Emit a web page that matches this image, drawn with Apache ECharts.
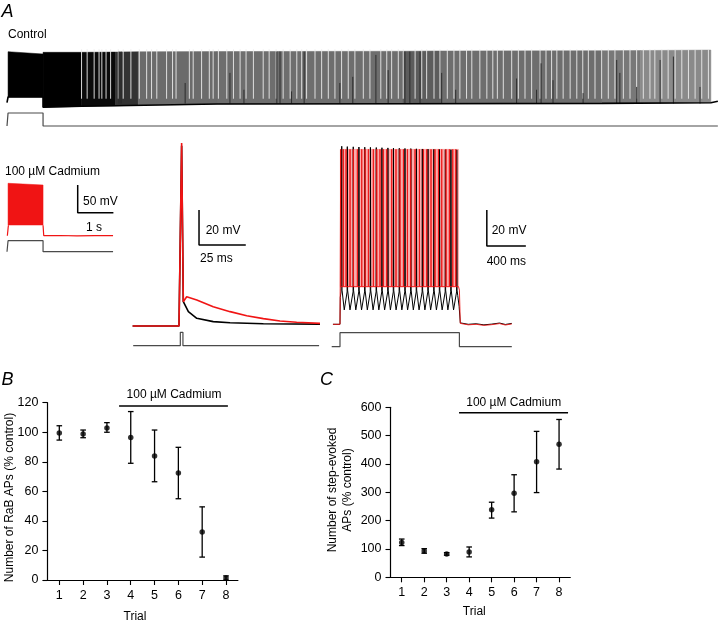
<!DOCTYPE html>
<html><head><meta charset="utf-8">
<script src="https://cdn.jsdelivr.net/npm/echarts@6/dist/echarts.min.js"></script>
<style>html,body{margin:0;padding:0;background:#fff}#c{width:720px;height:624px}</style>
</head><body><div id="c"></div>
<script>
// ================= DATA =================
// ---- Panel A, control RaB trace (time in s, membrane potential in mV) ----
const controlStimTime  = [0, 0.03, 0.03, 1.03, 1.03, 20.31];
const controlStimLevel = [0, 0, 1, 1, 0, 0];
// envelope of the dense firing, per segment
const controlEnvStart = [0.03, 1.03, 2.13, 3.10, 3.75, 6.0, 11.3, 12.4, 17.0, 18.1];
const controlEnvEnd   = [1.03, 2.13, 3.10, 3.75, 6.0, 11.3, 12.4, 17.0, 18.1, 20.11];
const controlEnvTop0  = [27.7, 26.6, 26.6, 27.0, 27.5, 28.0, 28.5, 29.0, 29.5, 29.8];
const controlEnvTop1  = [23.6, 26.6, 27.0, 27.5, 28.0, 28.5, 29.0, 29.5, 29.8, 30.7];
const controlEnvBot0  = [-52.9, -71.3, -69.5, -68.4, -67.5, -65.4, -65.0, -64.8, -64.2, -64.0];
const controlEnvBot1  = [-52.9, -69.5, -68.4, -67.5, -65.4, -65.0, -64.8, -64.2, -64.0, -63.1];
const controlDensity  = [1.0, 1.0, 0.96, 0.80, 0.58, 0.57, 0.64, 0.57, 0.53, 0.46];
// lower edge (troughs) of the control trace
const controlBaseTime = [0, 0.03, 0.03, 1.03, 1.03, 2.13, 3.1, 6.0, 11.3, 17.0, 20.11, 20.14, 20.31];
const controlBaseV    = [-63, -63, -52.9, -52.9, -71.3, -69.5, -68.4, -65.4, -65.0, -64.2, -63.1, -60.5, -60.5];
// longer inter-spike intervals (visible gaps), s
const controlGapTimes = [2.13, 2.29, 2.49, 2.63, 2.71, 2.83, 2.96, 3.18, 3.32, 3.54, 3.78, 3.99, 4.13, 4.28,
  4.56, 4.73, 4.83, 5.21, 5.32, 5.56, 5.78, 5.89, 6.04, 6.28, 6.47, 6.66, 6.83, 7.04, 7.32, 7.49, 7.69, 7.89,
  8.09, 8.28, 8.42, 8.56, 8.80, 8.99, 9.18, 9.37, 9.56, 9.75, 9.94, 10.18, 10.37, 10.68, 10.85, 10.99, 11.18,
  11.32, 11.66, 11.85, 11.99, 12.20, 12.37, 12.58, 12.77, 12.94, 13.13, 13.28, 13.51, 13.71, 13.88, 14.01,
  14.18, 14.42, 14.61, 14.80, 14.99, 15.23, 15.40, 15.56, 15.71, 15.89, 16.09, 16.28, 16.45, 16.61, 16.80,
  16.99, 17.18, 17.37, 17.61, 17.80, 17.99, 18.18, 18.37, 18.51, 18.71, 18.89, 19.09, 19.28, 19.47, 19.66,
  19.85, 20.04];
// individually visible spikes: time (s) and peak (mV)
const controlSpikeTimes = [3.20, 3.26, 5.09, 6.37, 6.77, 7.71, 7.80, 8.13, 8.49, 9.51, 9.88, 10.54, 10.89, 11.37,
  11.51, 11.80, 12.42, 12.82, 14.56, 15.13, 15.26, 15.60, 16.46, 17.42, 17.51, 17.99, 18.66, 19.04, 19.80];
const controlSpikePeaks = [28, 28, -28, -10, -40, 28, 28, -43, 28, -28, -17, 22, -5, 28,
  28, 28, -10, -40, -20, -40, 7, -23, -46, 13, -10, -35, 13, 19, -35];

// ---- Panel A, 100 uM cadmium inset (s, mV) ----
const insetStimTime  = [0, 0.03, 0.03, 1.03, 1.03, 3.03];
const insetStimLevel = [0, 0, 1, 1, 0, 0];
const insetBandStart = [0.03], insetBandEnd = [1.03];
const insetBandTop0 = [34.6], insetBandTop1 = [31.5], insetBandBot0 = [-40.7], insetBandBot1 = [-40.7];
const insetPreTime  = [0.01, 0.03, 0.04];
const insetPreV     = [-60, -60, -41];
const insetPostTime = [1.03, 1.05, 1.5, 2.0, 2.5, 3.03];
const insetPostV    = [-41, -60, -59.6, -60.2, -59.8, -60];

// ---- Panel A, single rebound AP (ms, mV) ----
const apRedTime   = [0.5, 25.3, 26.7, 27.6, 29.4, 34.8, 43.6, 52.6, 61.5, 70.4, 79.3, 88.2, 100.7];
const apRedV      = [-60, -60, 44.6, -46.1, -43.3, -45.1, -49.0, -51.8, -54.1, -55.8, -57.1, -57.9, -58.5];
const apBlackTime = [0.5, 25.3, 26.7, 27.6, 28.1, 30.3, 34.8, 43.6, 52.6, 70.4, 100.7];
const apBlackV    = [-60, -60, 43, -46.1, -46.5, -51.8, -55.6, -57.5, -58.1, -58.7, -58.9];
const apStimTime  = [0.8, 26.0, 26.0, 27.4, 27.4, 100.2];
const apStimLevel = [0, 0, 1, 1, 0, 0];

// ---- Panel A, step-evoked firing (ms, mV) ----
const stepStimTime  = [0, 85, 85, 1309, 1309, 1846];
const stepStimLevel = [0, 0, 1, 1, 0, 0];
const stepBlackSpikes = [103, 160, 221, 279, 339, 397, 457, 515, 576, 633, 693, 751, 811, 868, 929, 987, 1047, 1105, 1165, 1222, 1282];
const stepBlackPeaks  = [38.9, 38.7, 38.6, 38.5, 38.4, 38.3, 38.2, 38.1, 38.0, 37.9, 37.8, 37.7, 37.6, 37.5, 37.4, 37.3, 37.2, 37.1, 37.0, 37.0, 36.9];
const stepBlackTrough = -52;
const stepRedSpikes = [92, 119, 147, 188, 222, 263, 308, 342, 376, 427, 462, 495, 529, 564, 615, 659, 700, 735,
  776, 810, 854, 899, 940, 974, 1018, 1059, 1094, 1128, 1172, 1206, 1241, 1272];
const stepRedPeak = 37.2, stepRedPlateau = -39.1;
const stepPostTime = [1330, 1400, 1480, 1560, 1640, 1720, 1780, 1846];
const stepPostV    = [-59.6, -60.3, -60.0, -60.6, -60.2, -59.6, -60.4, -59.8];

// ---- Panel B: RaB APs (% control) ----
const trials = ['1', '2', '3', '4', '5', '6', '7', '8'];
const bMean  = [99.5, 98.8, 102.8, 96.5, 84, 72.5, 32.5, 1.4];
const bUpper = [104.4, 101.5, 106.5, 114, 101.5, 89.8, 49.5, 2.8];
const bLower = [94.7, 96.3, 100, 79, 66.5, 55, 15.5, 0];
// ---- Panel C: step-evoked APs (% control) ----
const cMean  = [123, 93, 82, 89, 238, 297, 408, 470];
const cUpper = [135, 101, 87, 107, 265, 362, 515, 557];
const cLower = [112, 85, 78, 72, 209, 231, 299, 382];
const bTicks = [0, 20, 40, 60, 80, 100, 120];
const cTicks = [0, 100, 200, 300, 400, 500, 600];

// ================= BUILD =================
const FONT = '"Liberation Sans", Arial, Helvetica, sans-serif';
const RED = '#f01414';
const zip = (a, b) => a.map((v, i) => [v, b[i]]);

function bandRows(s, e, t0, t1, b0, b1, d) { return s.map((v, i) => [v, e[i], t0[i], t1[i], b0[i], b1[i], d ? d[i] : 1]); }
function bandSeries(x, y, rows, colorFn) {
  return { type: 'custom', xAxisIndex: x, yAxisIndex: y, data: rows, encode: { x: 0, y: 2 }, silent: true,
    renderItem: (p, api) => {
      const pts = [api.coord([api.value(0), api.value(2)]), api.coord([api.value(1), api.value(3)]),
                   api.coord([api.value(1), api.value(5)]), api.coord([api.value(0), api.value(4)])];
      const c = colorFn(api.value(6));
      return { type: 'polygon', shape: { points: pts }, style: { fill: c, stroke: c, lineWidth: 0.5 } };
    } };
}
function vlineSeries(x, y, rows, color, width) {
  return { type: 'custom', xAxisIndex: x, yAxisIndex: y, data: rows, encode: { x: 0, y: 1 }, silent: true,
    renderItem: (p, api) => {
      const a = api.coord([api.value(0), api.value(1)]), b = api.coord([api.value(0), api.value(2)]);
      return { type: 'line', shape: { x1: a[0], y1: a[1], x2: b[0], y2: b[1] }, style: { stroke: color, lineWidth: width } };
    } };
}
function lineSeries(x, y, data, color, width) {
  return { type: 'line', xAxisIndex: x, yAxisIndex: y, data, showSymbol: false, symbol: 'none', clip: false,
    lineStyle: { color, width }, silent: true, animation: false };
}
const grayOf = d => { const g = Math.round(255 * (1 - d)); return `rgb(${g},${g},${g})`; };

// step-evoked black trace from read spike times
const stepBlack = [[13, -60], [85, -60], [88, -45], [96, -42]];
stepBlackSpikes.forEach((ts, i) => {
  stepBlack.push([ts - 1, -42], [ts, stepBlackPeaks[i]], [ts + 3, -41]);
  const nx = stepBlackSpikes[i + 1];
  if (nx) stepBlack.push([ts + (nx - ts) * 0.45, stepBlackTrough], [nx - 2, -42]);
});
stepBlack.push([1292, -44], [1306, -50], [1318, -59.2]);
stepPostTime.forEach((t, i) => stepBlack.push([t, stepPostV[i] + 0.3]));
const stepRed = [[13, -60], [85, -60], [87, -40]];
stepRedSpikes.forEach(ts => stepRed.push([ts - 1, stepRedPlateau], [ts, stepRedPeak], [ts + 1.5, stepRedPlateau]));
stepRed.push([1300, stepRedPlateau], [1309, -41], [1318, -59.5]);
stepPostTime.forEach((t, i) => stepRed.push([t, stepPostV[i]]));

const gapRows = controlGapTimes.map(t => [t, 32, -56]);
const spikeRows = controlSpikeTimes.map((t, i) => [t, -64.5, controlSpikePeaks[i]]);

// scale bars (anchor in data units, then bar lengths)
const sbInset = [[2.02, 31.5], [2.02, -18.5], [3.04, -18.5]];
const sbAP = [[36.0, 6.3], [36.0, -13.7], [61.0, -13.7]];
const sbStep = [[1590, 3.5], [1590, -16.5], [1990, -16.5]];

function errSeries(x, y, lo, hi) {
  return { type: 'custom', xAxisIndex: x, yAxisIndex: y, data: lo.map((v, i) => [i + 1, v, hi[i]]), encode: { x: 0, y: 1 }, silent: true,
    renderItem: (p, api) => {
      const a = api.coord([api.value(0), api.value(1)]), b = api.coord([api.value(0), api.value(2)]);
      const w = 2.8, st = { stroke: '#000', lineWidth: 1.3 };
      return { type: 'group', children: [
        { type: 'line', shape: { x1: a[0], y1: a[1], x2: b[0], y2: b[1] }, style: st },
        { type: 'line', shape: { x1: a[0] - w, y1: a[1], x2: a[0] + w, y2: a[1] }, style: st },
        { type: 'line', shape: { x1: b[0] - w, y1: b[1], x2: b[0] + w, y2: b[1] }, style: st } ] };
    } };
}

const hidden = (g, min, max) => ({ type: 'value', gridIndex: g, min, max, show: false });
const grids = [
  { left: 7, top: 47.6, width: 710.5, height: 61.8 },     // 0 control trace
  { left: 7, top: 113, width: 710.5, height: 13 },        // 1 control stim
  { left: 7, top: 180.3, width: 107.1, height: 66.5 },    // 2 inset trace
  { left: 7, top: 240.7, width: 107.1, height: 11 },      // 3 inset stim
  { left: 131.7, top: 133.5, width: 200.1, height: 210 }, // 4 AP trace
  { left: 131.7, top: 332.3, width: 200.1, height: 13.4 },// 5 AP stim
  { left: 331.7, top: 126.3, width: 200, height: 216 },   // 6 step trace
  { left: 331.7, top: 332.7, width: 200, height: 14 },    // 7 step stim
  { left: 47.4, top: 402.7, width: 190.5, height: 177.3 },// 8 panel B
  { left: 390.5, top: 407.3, width: 179.8, height: 170 }  // 9 panel C
].map(g => Object.assign(g, { outerBoundsMode: 'none', containLabel: false, show: false }));

const axisCommon = {
  axisLine: { show: true, onZero: false, lineStyle: { color: '#000', width: 1.2 } },
  axisTick: { show: true, inside: false, length: 5, lineStyle: { color: '#000', width: 1.1 } },
  axisLabel: { show: true, color: '#000', fontSize: 12.5, fontFamily: FONT, margin: 9 },
  splitLine: { show: false }
};
const catAxis = g => Object.assign({ type: 'category', gridIndex: g, data: trials, boundaryGap: true }, JSON.parse(JSON.stringify(axisCommon)),
  { axisTick: { show: true, alignWithLabel: true, length: 5, lineStyle: { color: '#000', width: 1.1 } } });
const valAxis = (g, max, interval) => Object.assign({ type: 'value', gridIndex: g, min: 0, max, interval }, JSON.parse(JSON.stringify(axisCommon)));

const xAxis = [hidden(0, 0, 20.3), hidden(1, 0, 20.3), hidden(2, 0, 3.06), hidden(3, 0, 3.06),
  hidden(4, 0, 107), hidden(5, 0, 107), hidden(6, 0, 2050), hidden(7, 0, 2050),
  catAxis(8), hidden(8, 0.5, 8.5), catAxis(9), hidden(9, 0.5, 8.5)];
const yAxis = [hidden(0, -75, 35), hidden(1, 0, 1), hidden(2, -80, 40), hidden(3, 0, 1),
  hidden(4, -70, 50), hidden(5, 0, 1), hidden(6, -70, 50), hidden(7, 0, 1),
  valAxis(8, bTicks[bTicks.length - 1], bTicks[1] - bTicks[0]), valAxis(9, cTicks[cTicks.length - 1], cTicks[1] - cTicks[0])];

const STIM = '#4a4a4a';
const series = [
  // control
  bandSeries(0, 0, bandRows(controlEnvStart, controlEnvEnd, controlEnvTop0, controlEnvTop1, controlEnvBot0, controlEnvBot1, controlDensity), grayOf),
  vlineSeries(0, 0, gapRows, '#ececec', 0.9),
  vlineSeries(0, 0, spikeRows, '#262626', 0.9),
  lineSeries(0, 0, zip(controlBaseTime, controlBaseV), '#000', 1.6),
  lineSeries(1, 1, zip(controlStimTime, controlStimLevel), STIM, 1.2),
  // inset
  bandSeries(2, 2, bandRows(insetBandStart, insetBandEnd, insetBandTop0, insetBandTop1, insetBandBot0, insetBandBot1), () => RED),
  lineSeries(2, 2, zip(insetPreTime, insetPreV), RED, 1.2),
  lineSeries(2, 2, zip(insetPostTime, insetPostV), RED, 1.2),
  lineSeries(3, 3, zip(insetStimTime, insetStimLevel), STIM, 1.2),
  lineSeries(2, 2, sbInset, '#000', 1.5),
  // single AP
  lineSeries(4, 4, zip(apBlackTime, apBlackV), '#000', 1.6),
  lineSeries(4, 4, zip(apRedTime, apRedV), RED, 1.6),
  lineSeries(5, 5, zip(apStimTime, apStimLevel), STIM, 1.2),
  lineSeries(4, 4, sbAP, '#000', 1.5),
  // step evoked
  lineSeries(6, 6, stepBlack, '#000', 1.0),
  bandSeries(6, 6, [[88, 1300, stepRedPeak, stepRedPeak, stepRedPlateau, stepRedPlateau, 1]], () => 'rgba(240,60,60,0.42)'),
  lineSeries(6, 6, stepRed, RED, 0.9),
  lineSeries(7, 7, zip(stepStimTime, stepStimLevel), STIM, 1.2),
  lineSeries(6, 6, sbStep, '#000', 1.5),
  // panel B
  errSeries(9, 8, bLower, bUpper),
  { type: 'scatter', xAxisIndex: 9, yAxisIndex: 8, data: zip(trials.map(Number), bMean), symbol: 'circle', symbolSize: 5.5, itemStyle: { color: '#000' }, silent: true },
  lineSeries(9, 8, [[3.51, 117.8], [8.08, 117.8]], '#000', 1.5),
  // panel C
  errSeries(11, 9, cLower, cUpper),
  { type: 'scatter', xAxisIndex: 11, yAxisIndex: 9, data: zip(trials.map(Number), cMean), symbol: 'circle', symbolSize: 5.5, itemStyle: { color: '#000' }, silent: true },
  lineSeries(11, 9, [[3.55, 581], [8.4, 581]], '#000', 1.5)
];

const T = (x, y, s, o = {}) => ({ type: 'text', x, y, rotation: o.rot || 0, silent: true, z: 100,
  style: { text: s, x: 0, y: 0, fill: '#000', font: (o.italic ? 'italic ' : '') + (o.size || 12) + 'px ' + FONT,
    textAlign: o.align || 'left', textVerticalAlign: 'middle' } });
const graphic = [
  T(1.5, 12, 'A', { italic: true, size: 18 }),
  T(8, 35, 'Control'),
  T(5, 172, '100 µM Cadmium'),
  T(83, 202, '50 mV'),
  T(86, 227.5, '1 s'),
  T(205.7, 230.7, '20 mV'),
  T(200, 258.3, '25 ms'),
  T(491.7, 230.7, '20 mV'),
  T(486.7, 261.7, '400 ms'),
  T(1.5, 380, 'B', { italic: true, size: 18 }),
  T(320, 380, 'C', { italic: true, size: 18 }),
  T(174, 395, '100 µM Cadmium', { align: 'center' }),
  T(513.7, 402.3, '100 µM Cadmium', { align: 'center' }),
  T(9.5, 497.5, 'Number of RaB APs (% control)', { align: 'center', rot: Math.PI / 2 }),
  T(333, 490, 'Number of step-evoked', { align: 'center', rot: Math.PI / 2 }),
  T(348, 490, 'APs (% control)', { align: 'center', rot: Math.PI / 2 }),
  T(135, 616.7, 'Trial', { align: 'center' }),
  T(474.3, 611.7, 'Trial', { align: 'center' })
];

const chart = echarts.init(document.getElementById('c'), null, { renderer: 'canvas' });
chart.setOption({ animation: false, backgroundColor: '#fff', grid: grids, xAxis, yAxis, series, graphic });
</script></body></html>
